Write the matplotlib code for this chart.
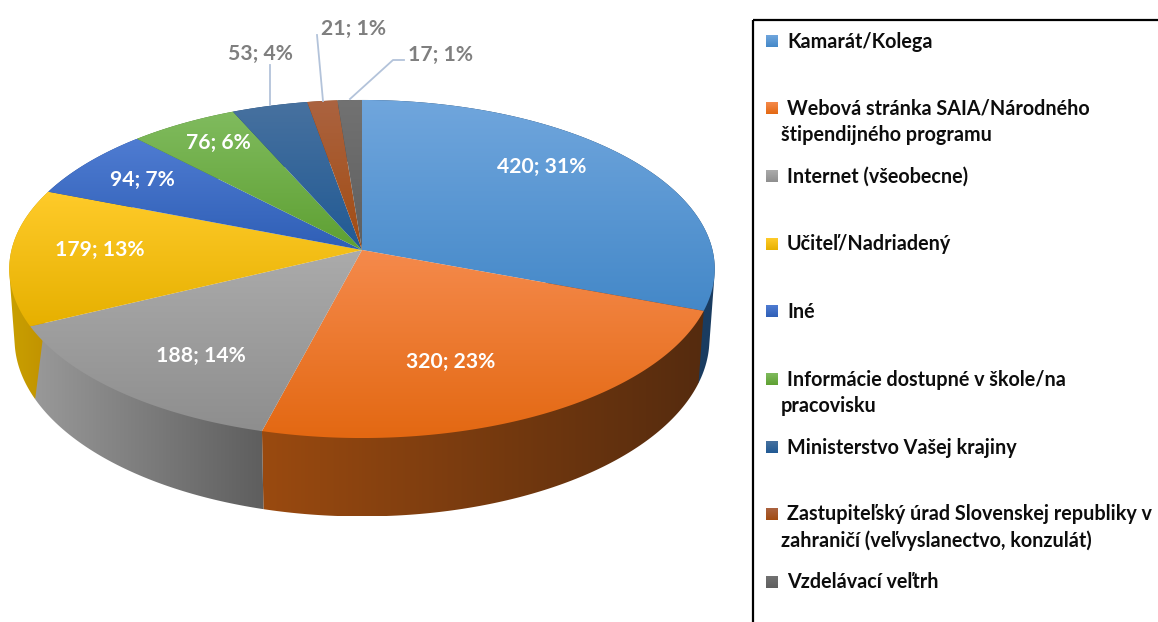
import numpy as np
import matplotlib
matplotlib.use('Agg')
import matplotlib.pyplot as plt
from matplotlib.colors import to_rgb
from matplotlib.patches import Polygon, Rectangle

# Chart data
categories = ['Kamarát/Kolega', 'Webová stránka SAIA/Národného\nštipendijného programu',
              'Internet (všeobecne)', 'Učiteľ/Nadriadený', 'Iné',
              'Informácie dostupné v škole/na\npracovisku', 'Ministerstvo Vašej krajiny',
              'Zastupiteľský úrad Slovenskej republiky v\nzahraničí (veľvyslanectvo, konzulát)',
              'Vzdelávací veľtrh']
values = [420, 320, 188, 179, 94, 76, 53, 21, 17]
percents = [31, 23, 14, 13, 7, 6, 4, 1, 1]

# Slice colours: (top face light, top face dark, wall left, wall right)
slice_colors = [
    ('#70a6dd', '#4488c8', '#1a3c60', '#1a3c60'),
    ('#f58a4c', '#e36812', '#9a4a10', '#552b0e'),
    ('#ababab', '#8e8e8e', '#9a9a9a', '#5e5e5e'),
    ('#ffcb2a', '#e6b000', '#c9a000', '#c09000'),
    ('#4f7cd2', '#2f5fb6', '#264a90', '#264a90'),
    ('#80bb5e', '#5ea032', '#47782a', '#47782a'),
    ('#47719f', '#215a94', '#1a4470', '#1a4470'),
    ('#ab6340', '#a24c12', '#7a390e', '#7a390e'),
    ('#727272', '#5f5f5f', '#484848', '#484848'),
]

# Label centres in picture pixels
label_xy = [(542, 167), (451, 362), (201, 356), (100, 250), (142, 180),
            (218, 143), (260, 54), (354, 29), (441, 55)]
label_white = [True, True, True, True, True, True, False, False, False]
leaders = [[(270, 65), (270, 105)],
           [(317, 35), (323, 101)],
           [(404, 60), (393, 60), (350, 99)]]
legend_y = [41, 108, 176, 244, 311, 379, 447, 514, 582]

# Perspective of the pie disc
CX, CY = 362, 250
A, B, K = 350.5, 166.9, 0.1124


def top_point(theta):
    d = 1 + K * np.cos(theta)
    return CX + A * np.sin(theta) / d, CY - B * np.cos(theta) / d


def bottom_point(theta):
    x, y = top_point(theta)
    return CX + 0.985 * (x - CX), 319 + 1.05 * (y - CY)


def convex_hull(points):
    # monotone chain, keeps the wall silhouette tangent at the pie's sides
    pts = sorted(set(map(tuple, points)))

    def half(seq):
        out = []
        for p in seq:
            while len(out) > 1 and ((out[-1][0] - out[-2][0]) * (p[1] - out[-2][1])
                                    - (out[-1][1] - out[-2][1]) * (p[0] - out[-2][0])) <= 0:
                out.pop()
            out.append(p)
        return out[:-1]

    return half(pts) + half(pts[::-1])


def gradient_fill(ax, verts, c0, c1, vertical=True, zorder=2):
    # gradient image clipped to a polygon
    verts = np.asarray(verts)
    x0, y0 = verts.min(axis=0)
    x1, y1 = verts.max(axis=0)
    t = np.linspace(0, 1, 256)[:, None]
    ramp = (1 - t) * np.array(to_rgb(c0)) + t * np.array(to_rgb(c1))
    img = ramp[:, None, :] if vertical else ramp[None, :, :]
    im = ax.imshow(img, extent=(x0, x1, y1, y0), aspect='auto', origin='upper',
                   interpolation='bilinear', zorder=zorder)
    poly = Polygon(verts, closed=True, transform=ax.transData, fc='none', ec='none')
    ax.add_patch(poly)
    im.set_clip_path(poly)


plt.rcParams['font.family'] = ['Lato', 'DejaVu Sans']
fig = plt.figure(figsize=(11.58, 6.22), dpi=100)
ax = fig.add_axes([0, 0, 1, 1])

edges = np.concatenate([[0], np.cumsum(values)]) / np.sum(values) * 2 * np.pi

# walls first, the top faces cover their hidden parts
for i, colors in enumerate(slice_colors):
    th = np.linspace(edges[i], edges[i + 1], 120)
    upper = np.column_stack(top_point(th))
    lower = np.column_stack(bottom_point(th))
    wall = convex_hull(np.vstack([upper, lower]))
    gradient_fill(ax, wall, colors[2], colors[3], vertical=False, zorder=2)

for i, colors in enumerate(slice_colors):
    th = np.linspace(edges[i], edges[i + 1], 120)
    arc = np.column_stack(top_point(th))
    gradient_fill(ax, np.vstack([[(CX, CY)], arc]), colors[0], colors[1], zorder=3)

# data labels and leader lines
for i, (x, y) in enumerate(label_xy):
    ax.text(x, y, f'{values[i]}; {percents[i]}%', ha='center', va='center', fontsize=15.2,
            fontweight='bold', color='white' if label_white[i] else '#7f7f7f', zorder=5)
for line in leaders:
    pts = np.array(line)
    ax.plot(pts[:, 0], pts[:, 1], color='#b3c3da', lw=1.3, zorder=4)

# legend box runs off the picture on the right and at the bottom
ax.add_patch(Rectangle((753, 20), 600, 800, fc='none', ec='black', lw=1.6, zorder=5))
for i, name in enumerate(categories):
    y = legend_y[i]
    colors = slice_colors[i]
    square = [(766, y - 6), (778, y - 6), (778, y + 6), (766, y + 6)]
    gradient_fill(ax, square, colors[0], colors[1], zorder=5)
    parts = name.split('\n')
    ax.text(787, y + 0.5, parts[0], ha='left', va='center', fontsize=14.2,
            fontweight='bold', color='#0d0d0d', zorder=6)
    if len(parts) > 1:
        ax.text(781, y + 27, parts[1], ha='left', va='center', fontsize=14.2,
                fontweight='bold', color='#0d0d0d', zorder=6)

ax.set_xlim(0, 1158)
ax.set_ylim(622, 0)
ax.axis('off')
fig.savefig('out.png', dpi=100)
